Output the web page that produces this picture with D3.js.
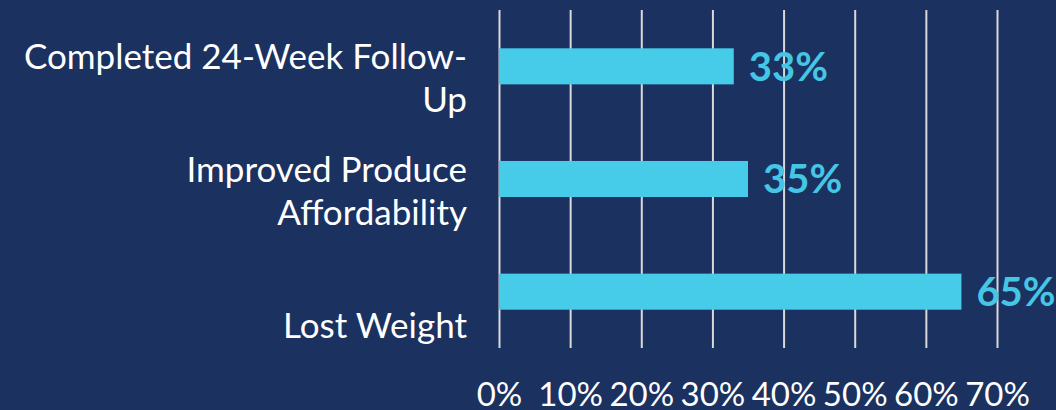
<!DOCTYPE html>
<html lang="en">
<head>
    <meta charset="UTF-8">
    <title>Outcomes</title>
    <script src="https://d3js.org/d3.v7.min.js"></script>
    <style>
        html, body { margin: 0; padding: 0; background: #1b3160; }
        svg { display: block; font-family: Lato, "Open Sans", sans-serif; }
    </style>
</head>
<body>
<div id="chart"></div>
<script>
    // data
    var categories = ["Completed 24-Week Follow-Up", "Improved Produce Affordability", "Lost Weight"];
    var labelLines = [["Completed 24-Week Follow-", "Up"], ["Improved Produce", "Affordability"], ["Lost Weight"]];
    var values = [33, 35, 65];
    var xTicks = [0, 10, 20, 30, 40, 50, 60, 70];

    var W = 1056, H = 410;
    var margin = {top: 10, right: 59, bottom: 62, left: 499};
    var width = W - margin.left - margin.right,
        height = H - margin.top - margin.bottom;

    var svg = d3.select("#chart").append("svg")
        .attr("width", W)
        .attr("height", H);

    svg.append("rect").attr("width", W).attr("height", H).attr("fill", "#1b3160");

    var g = svg.append("g")
        .attr("transform", "translate(" + margin.left + "," + margin.top + ")");

    var x = d3.scaleLinear().domain([0, 70]).range([0, width]);
    var y = d3.scaleBand().domain(categories).range([0, height])
        .paddingInner(0.68).paddingOuter(0.34);

    // gridlines + tick labels
    var axis = g.append("g")
        .attr("transform", "translate(0," + height + ")")
        .call(d3.axisBottom(x).tickValues(xTicks).tickFormat(function (d) { return d + "%"; })
            .tickSize(-height));
    axis.select(".domain").remove();
    axis.selectAll(".tick line").attr("stroke", "#d9d9d9").attr("stroke-width", 2);
    axis.selectAll(".tick text")
        .attr("y", 58).attr("dy", 0)
        .attr("fill", "#ffffff")
        .style("font-size", "33px")
        .style("font-family", "Lato, sans-serif");

    // bars
    g.selectAll(".bar")
        .data(values)
        .enter().append("rect")
        .attr("class", "bar")
        .attr("x", 0)
        .attr("y", function (d, i) { return y(categories[i]); })
        .attr("width", function (d) { return x(d); })
        .attr("height", y.bandwidth())
        .attr("fill", "#46cbe8");

    // value labels
    g.selectAll(".val")
        .data(values)
        .enter().append("text")
        .attr("class", "val")
        .attr("x", function (d) { return x(d) + 15; })
        .attr("y", function (d, i) { return y(categories[i]) + y.bandwidth() / 2; })
        .attr("dy", "0.36em")
        .attr("fill", "#45c6e5")
        .style("font-size", "40px")
        .style("font-weight", "bold")
        .text(function (d) { return d + "%"; });

    // category labels, last line bottom-aligned below band centre
    var lineH = 43;
    var cat = g.selectAll(".cat")
        .data(categories)
        .enter().append("text")
        .attr("class", "cat")
        .attr("text-anchor", "end")
        .attr("fill", "#ffffff")
        .style("font-size", "35px");
    cat.each(function (c, i) {
        var lines = labelLines[i];
        var base = y(c) + y.bandwidth() / 2 + 46 - (lines.length - 1) * lineH;
        d3.select(this).selectAll("tspan")
            .data(lines)
            .enter().append("tspan")
            .attr("x", -32)
            .attr("y", function (l, j) { return base + j * lineH; })
            .text(function (l) { return l; });
    });
</script>
</body>
</html>
